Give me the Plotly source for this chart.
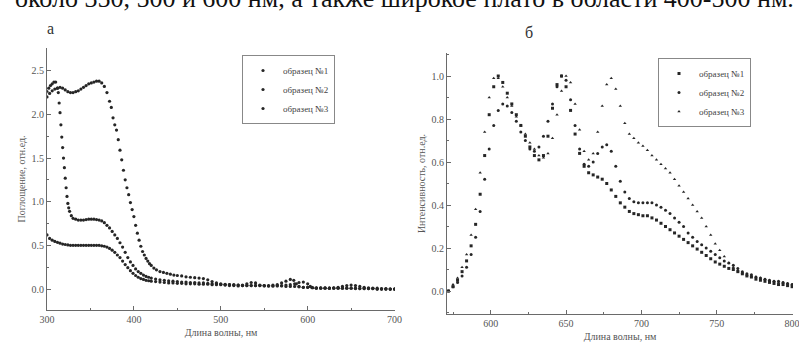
import plotly.graph_objects as go

# ---------- panel a: absorption ----------
abs_x_1 = [300, 302, 304, 306, 308, 310, 312, 313, 314, 315, 316, 317, 318, 319, 320, 321, 322, 323, 324, 325, 326, 328,
           330, 333, 336, 339, 342, 345, 348, 351, 354, 357, 360, 363, 366, 369, 372, 375, 378, 381, 384, 387, 390, 393,
           396, 399, 402, 405, 408, 411, 414, 417, 420, 425, 430, 435, 440, 445, 450, 455, 460, 465, 470, 475, 480, 485,
           490, 495, 500, 505, 510, 515, 520, 525, 530, 535, 540, 545, 550, 555, 560, 565, 570, 575, 580, 584, 587, 590,
           595, 600, 605, 610, 615, 620, 625, 630, 635, 640, 645, 650, 655, 660, 665, 670, 675, 680, 685, 690, 695, 700]
abs_y_1 = [2.26, 2.30, 2.33, 2.35, 2.37, 2.37, 2.30, 2.25, 2.13, 2.02, 1.88, 1.74, 1.62, 1.50, 1.39, 1.27, 1.16, 1.06, 0.98, 0.93, 0.89, 0.84,
           0.81, 0.80, 0.79, 0.79, 0.79, 0.795, 0.80, 0.80, 0.80, 0.795, 0.79, 0.78, 0.76, 0.73, 0.70, 0.66, 0.62, 0.58, 0.53, 0.48, 0.42, 0.36,
           0.31, 0.27, 0.23, 0.20, 0.18, 0.16, 0.145, 0.135, 0.125, 0.115, 0.105, 0.10, 0.095, 0.09, 0.085, 0.08, 0.08, 0.075, 0.075, 0.07, 0.07, 0.065,
           0.06, 0.06, 0.055, 0.05, 0.05, 0.045, 0.045, 0.04, 0.04, 0.04, 0.04, 0.04, 0.04, 0.04, 0.045, 0.05, 0.07, 0.09, 0.11, 0.10, 0.06, 0.03,
           0.02, 0.02, 0.015, 0.01, 0.01, 0.01, 0.01, 0.015, 0.02, 0.03, 0.04, 0.045, 0.04, 0.03, 0.02, 0.015, 0.01, 0.01, 0.005, 0.005, 0.0, 0.0]

abs_x_2 = [300, 303, 306, 309, 312, 315, 318, 321, 324, 327, 330, 333, 336, 339, 342, 345, 348, 351, 354, 357, 360, 363, 366,
           369, 372, 374, 376, 378, 380, 382, 384, 386, 388, 390, 392, 394, 396, 398, 400, 402, 404, 406, 408, 410, 412, 414,
           416, 418, 420, 423, 426, 430, 434, 438, 442, 446, 450, 455, 460, 465, 470, 475, 480, 485, 490, 495, 500, 505, 510,
           515, 520, 525, 530, 535, 540, 545, 550, 555, 560, 565, 570, 575, 580, 585, 590, 595, 600, 605, 610, 615, 620, 625,
           630, 635, 640, 645, 650, 655, 660, 665, 670, 675, 680, 685, 690, 695, 700]
abs_y_2 = [2.20, 2.24, 2.27, 2.29, 2.30, 2.31, 2.30, 2.28, 2.26, 2.25, 2.25, 2.26, 2.27, 2.29, 2.31, 2.33, 2.35, 2.36, 2.37, 2.38, 2.38, 2.36, 2.32,
           2.25, 2.15, 2.08, 1.96, 1.88, 1.82, 1.71, 1.59, 1.48, 1.36, 1.25, 1.16, 1.08, 0.99, 0.91, 0.83, 0.73, 0.64, 0.56, 0.49, 0.43, 0.39, 0.35,
           0.32, 0.29, 0.27, 0.24, 0.22, 0.20, 0.19, 0.18, 0.17, 0.16, 0.155, 0.15, 0.14, 0.135, 0.13, 0.125, 0.12, 0.105, 0.085, 0.07, 0.06, 0.055, 0.05,
           0.05, 0.045, 0.045, 0.04, 0.04, 0.04, 0.04, 0.04, 0.035, 0.035, 0.035, 0.035, 0.03, 0.03, 0.03, 0.025, 0.02, 0.02, 0.02, 0.015, 0.015, 0.015, 0.01,
           0.01, 0.01, 0.01, 0.01, 0.01, 0.005, 0.005, 0.005, 0.005, 0.005, 0.0, 0.0, 0.0, 0.0, 0.0]

abs_x_3 = [300, 303, 306, 309, 312, 315, 318, 321, 324, 327, 330, 333, 336, 339, 342, 345, 348, 351, 354, 357, 360, 363, 366,
           369, 372, 375, 378, 381, 384, 387, 390, 393, 396, 399, 402, 405, 408, 411, 414, 417, 420, 425, 430, 435, 440, 445,
           450, 455, 460, 465, 470, 475, 480, 485, 490, 495, 500, 505, 510, 515, 520, 525, 530, 535, 540, 545, 550, 555, 560,
           565, 570, 575, 580, 585, 590, 595, 600, 603, 606, 610, 615, 620, 625, 630, 635, 640, 645, 650, 655, 660, 665, 670,
           675, 680, 685, 690, 695, 700]
abs_y_3 = [0.62, 0.58, 0.56, 0.545, 0.535, 0.525, 0.515, 0.51, 0.505, 0.50, 0.50, 0.50, 0.50, 0.50, 0.50, 0.50, 0.50, 0.50, 0.50, 0.50, 0.50, 0.495, 0.49,
           0.48, 0.465, 0.445, 0.42, 0.39, 0.36, 0.32, 0.28, 0.245, 0.21, 0.18, 0.155, 0.135, 0.12, 0.11, 0.10, 0.095, 0.09, 0.085, 0.08, 0.075, 0.07, 0.07,
           0.065, 0.065, 0.06, 0.06, 0.06, 0.055, 0.055, 0.055, 0.05, 0.05, 0.05, 0.045, 0.04, 0.04, 0.035, 0.04, 0.06, 0.075, 0.07, 0.045, 0.035, 0.035, 0.035,
           0.04, 0.04, 0.045, 0.05, 0.06, 0.075, 0.08, 0.06, 0.03, 0.015, 0.01, 0.01, 0.01, 0.01, 0.01, 0.01, 0.01, 0.01, 0.01, 0.01, 0.005, 0.005, 0.005,
           0.005, 0.0, 0.0, 0.0, 0.0, 0.0]

# ---------- panel b: luminescence ----------
pl_x = [572, 575, 578, 581, 584, 587, 590, 593, 596, 599, 602, 605, 608, 611, 614, 617, 620, 623, 626, 629, 632, 635, 638,
        641, 644, 647, 650, 653, 656, 659, 662, 665, 668, 671, 674, 677, 680, 683, 686, 689, 692, 695, 698, 701, 704, 707,
        710, 713, 716, 719, 722, 725, 728, 731, 734, 737, 740, 743, 746, 749, 752, 755, 758, 761, 764, 767, 770, 773, 776,
        779, 782, 785, 788, 791, 794, 797, 800]
pl_y_1 = [0.00, 0.02, 0.05, 0.09, 0.14, 0.21, 0.31, 0.45, 0.63, 0.82, 0.95, 1.00, 0.97, 0.92, 0.87, 0.82, 0.77, 0.72, 0.67, 0.63, 0.61, 0.63, 0.72,
          0.85, 0.96, 1.00, 0.95, 0.84, 0.73, 0.64, 0.58, 0.55, 0.54, 0.53, 0.52, 0.50, 0.47, 0.44, 0.41, 0.39, 0.37, 0.36, 0.355, 0.35, 0.35, 0.34,
          0.33, 0.315, 0.30, 0.285, 0.27, 0.255, 0.24, 0.225, 0.21, 0.195, 0.18, 0.165, 0.15, 0.135, 0.125, 0.115, 0.105, 0.10, 0.09, 0.08, 0.07, 0.065, 0.055,
          0.05, 0.045, 0.04, 0.035, 0.03, 0.03, 0.025, 0.02]
pl_y_2 = [0.00, 0.02, 0.04, 0.07, 0.11, 0.17, 0.25, 0.37, 0.52, 0.66, 0.77, 0.84, 0.87, 0.86, 0.83, 0.79, 0.74, 0.70, 0.66, 0.65, 0.67, 0.72, 0.79,
          0.87, 0.95, 1.00, 0.98, 0.89, 0.77, 0.66, 0.59, 0.58, 0.60, 0.64, 0.67, 0.68, 0.65, 0.58, 0.51, 0.46, 0.43, 0.415, 0.41, 0.41, 0.41, 0.41,
          0.40, 0.39, 0.375, 0.36, 0.34, 0.32, 0.30, 0.27, 0.25, 0.23, 0.215, 0.20, 0.185, 0.17, 0.155, 0.14, 0.13, 0.12, 0.105, 0.09, 0.08, 0.075, 0.065,
          0.06, 0.055, 0.05, 0.045, 0.045, 0.04, 0.035, 0.03]
pl_y_3 = [0.00, 0.03, 0.06, 0.11, 0.17, 0.26, 0.38, 0.55, 0.74, 0.90, 0.99, 0.99, 0.95, 0.90, 0.86, 0.81, 0.77, 0.73, 0.69, 0.66, 0.63, 0.62, 0.64,
          0.71, 0.82, 0.93, 1.00, 0.97, 0.87, 0.75, 0.65, 0.61, 0.64, 0.74, 0.86, 0.96, 0.99, 0.94, 0.86, 0.78, 0.73, 0.71, 0.69, 0.675, 0.655, 0.63,
          0.61, 0.59, 0.57, 0.55, 0.52, 0.49, 0.46, 0.43, 0.40, 0.37, 0.34, 0.30, 0.26, 0.22, 0.19, 0.16, 0.13, 0.11, 0.095, 0.085, 0.075, 0.07, 0.065,
          0.06, 0.055, 0.05, 0.045, 0.04, 0.04, 0.035, 0.03]

names = ["образец №1", "образец №2", "образец №3"]
ink = "#262626"
axis_c = "#6a6a6a"
txt_c = "#555555"
serif = "Liberation Serif, Times New Roman, serif"

fig = go.Figure()

for xs, ys, nm in [(abs_x_1, abs_y_1, names[0]),
                   (abs_x_2, abs_y_2, names[1]),
                   (abs_x_3, abs_y_3, names[2])]:
    fig.add_trace(go.Scatter(x=xs, y=ys, name=nm, mode="markers",
                             marker=dict(size=3.2, color=ink, symbol="circle"),
                             xaxis="x", yaxis="y", legend="legend"))

for ys, nm, sym in [(pl_y_1, names[0], "square"),
                    (pl_y_2, names[1], "circle"),
                    (pl_y_3, names[2], "triangle-up")]:
    fig.add_trace(go.Scatter(x=pl_x, y=ys, name=nm, mode="markers",
                             marker=dict(size=3, color=ink, symbol=sym),
                             xaxis="x2", yaxis="y2", legend="legend2"))

ax_common = dict(showline=True, linecolor=axis_c, linewidth=1, showgrid=False, zeroline=False,
                 ticks="inside", ticklen=4, tickcolor=axis_c, mirror=False, automargin=False,
                 ticklabeloverflow="allow",
                 tickfont=dict(family=serif, size=10, color=txt_c))
title_font = dict(family=serif, size=10, color=txt_c)

fig.update_layout(
    template="none",
    width=799, height=350,
    margin=dict(l=0, r=0, t=0, b=0, pad=0, autoexpand=False),
    paper_bgcolor="white", plot_bgcolor="white",
    showlegend=True,
    xaxis=dict(ax_common, domain=[47/799, 395/799], range=[300, 700.5], dtick=100, tick0=300,
               minor=dict(ticks="inside", ticklen=2, dtick=50, tickcolor=axis_c),
               title=dict(text="Длина волны, нм", font=title_font, standoff=4),
               anchor="y"),
    yaxis=dict(ax_common, domain=[(350-310)/350, (350-48)/350], range=[-0.24, 2.76], dtick=0.5, tickformat=".1f",
               minor=dict(ticks="inside", ticklen=2, dtick=0.25, tickcolor=axis_c),
               title=dict(text="Поглощение, отн.ед.", font=title_font, standoff=4),
               anchor="x"),
    xaxis2=dict(ax_common, domain=[447/799, 793/799], range=[571, 800.6], dtick=50, tick0=600,
                minor=dict(ticks="inside", ticklen=2, dtick=25, tickcolor=axis_c),
                title=dict(text="Длина волны, нм", font=title_font, standoff=4),
                anchor="y2"),
    yaxis2=dict(ax_common, domain=[(350-314)/350, (350-53)/350], range=[-0.107, 1.107], dtick=0.2, tickformat=".1f",
                minor=dict(ticks="inside", ticklen=2, dtick=0.1, tickcolor=axis_c),
                title=dict(text="Интенсивность, отн.ед.", font=title_font, standoff=4),
                anchor="x2"),
    legend=dict(x=242/799, y=(350-55)/350, xanchor="left", yanchor="top",
                bordercolor="#888", borderwidth=1, bgcolor="white",
                font=dict(family=serif, size=9, color="#444"), tracegroupgap=0, itemwidth=30),
    legend2=dict(x=658/799, y=(350-58)/350, xanchor="left", yanchor="top",
                 bordercolor="#888", borderwidth=1, bgcolor="white",
                 font=dict(family=serif, size=9, color="#444"), tracegroupgap=0, itemwidth=30),
    annotations=[
        dict(text="около 350, 500 и 600 нм, а также широкое плато в области 400-500 нм.",
             x=404/799, y=(350+1)/350, xref="paper", yref="paper", xanchor="center", yanchor="middle",
             showarrow=False, font=dict(family=serif, size=26, color="#111")),
        dict(text="а", x=45/799, y=(350-18)/350, xref="paper", yref="paper",
             showarrow=False, font=dict(family=serif, size=16, color="#333")),
        dict(text="б", x=535/799, y=(350-22)/350, xref="paper", yref="paper",
             showarrow=False, font=dict(family=serif, size=16, color="#333")),
    ],
)

fig.write_html("out.html", config={"displayModeBar": False},
               post_script="document.body.style.margin='0';")
